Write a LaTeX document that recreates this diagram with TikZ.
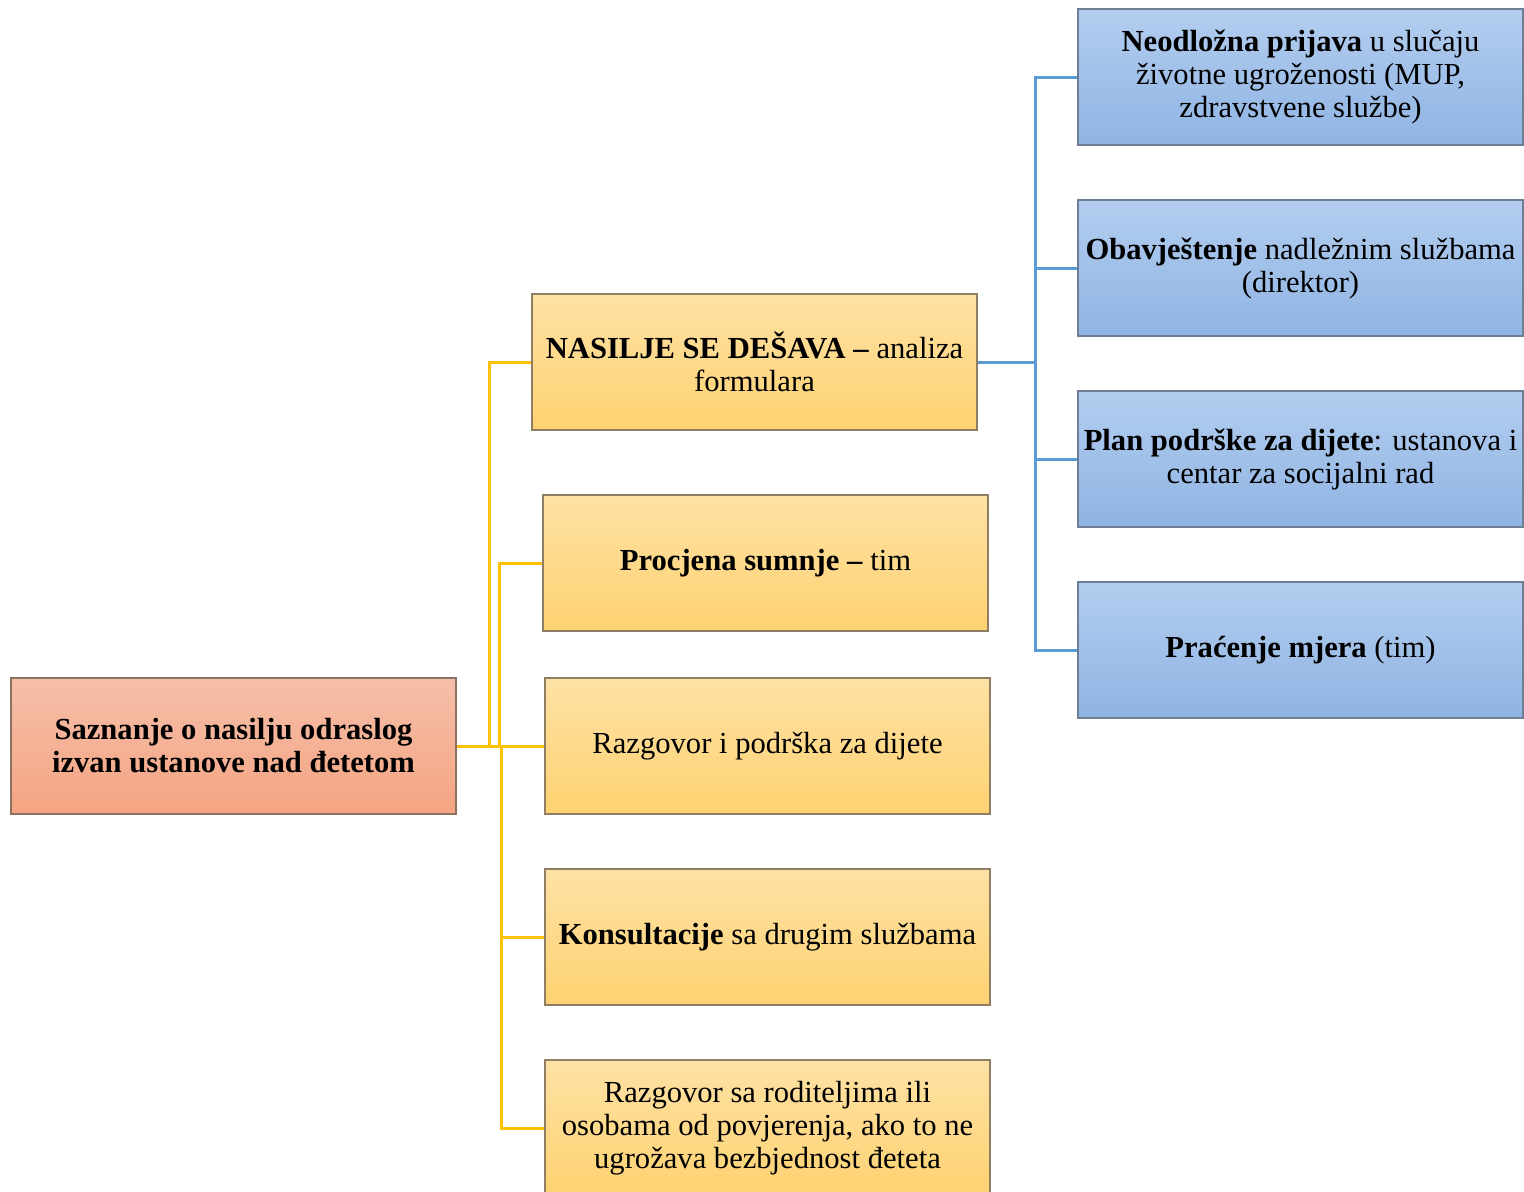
\documentclass[tikz,border=0pt]{standalone}
\usepackage{fontspec}
\setmainfont{Liberation Serif}
\definecolor{yTop}{HTML}{FEE1A4}
\definecolor{yBot}{HTML}{FED271}
\definecolor{yBorder}{HTML}{8F7E62}
\definecolor{bTop}{HTML}{B3CDEF}
\definecolor{bBot}{HTML}{8FB4E3}
\definecolor{bBorder}{HTML}{6E7F95}
\definecolor{sTop}{HTML}{F6BFA9}
\definecolor{sBot}{HTML}{F4A482}
\definecolor{sBorder}{HTML}{8C7262}
\definecolor{yLine}{HTML}{FFC000}
\definecolor{bLine}{HTML}{5B9BD5}
\begin{document}
\begin{tikzpicture}[x=0.5pt,y=-0.5pt,
  boxstyle/.style={rectangle, line width=1pt, minimum width=222.5pt, minimum height=68pt,
    align=center, inner sep=1pt, font=\fontsize{15.3}{16.5}\selectfont},
  ybox/.style={boxstyle, top color=yTop, bottom color=yBot, draw=yBorder},
  bbox/.style={boxstyle, top color=bTop, bottom color=bBot, draw=bBorder},
  sbox/.style={boxstyle, top color=sTop, bottom color=sBot, draw=sBorder},
  yline/.style={draw=yLine, line width=1.5pt},
  bline/.style={draw=bLine, line width=1.5pt}]
\useasboundingbox (0,0) rectangle (1524,1191);
\clip (0,0) rectangle (1524,1191);

\node[sbox] (root) at (233.5,746) {\textbf{Saznanje o nasilju odraslog}\\\textbf{izvan ustanove nad đetetom}};

\node[ybox] (b1) at (754.5,362) {\textbf{NASILJE SE DEŠAVA –} analiza\\formulara};
\node[ybox] (b2) at (765.5,563) {\textbf{Procjena sumnje –} tim};
\node[ybox] (b3) at (767.5,746) {Razgovor i podrška za dijete};
\node[ybox] (b4) at (767.5,937) {\textbf{Konsultacije} sa drugim službama};
\node[ybox] (b5) at (767.5,1128) {Razgovor sa roditeljima ili\\osobama od povjerenja, ako to ne\\ugrožava bezbjednost đeteta};

\node[bbox] (n1) at (1300.5,77) {\textbf{Neodložna prijava} u slučaju\\životne ugroženosti (MUP,\\zdravstvene službe)};
\node[bbox] (n2) at (1300.5,268) {\textbf{Obavještenje} nadležnim službama\\(direktor)};
\node[bbox] (n3) at (1300.5,459) {\textbf{Plan podrške za dijete}: ustanova i\\centar za socijalni rad};
\node[bbox] (n4) at (1300.5,650) {\textbf{Praćenje mjera} (tim)};

\draw[yline] (root.east) -- ++(32,0) |- (b1.west);
\draw[yline] (root.east) -- ++(42,0) |- (b2.west);
\draw[yline] (root.east) -- (b3.west);
\draw[yline] ([xshift=22pt]root.east) |- (b4.west);
\draw[yline] ([xshift=22pt]root.east) |- (b5.west);

\draw[bline] (b1.east) -- ++(57,0) |- (n1.west);
\draw[bline] (b1.east) -- ++(57,0) |- (n2.west);
\draw[bline] (b1.east) -- ++(57,0) |- (n3.west);
\draw[bline] (b1.east) -- ++(57,0) |- (n4.west);
\end{tikzpicture}
\end{document}
